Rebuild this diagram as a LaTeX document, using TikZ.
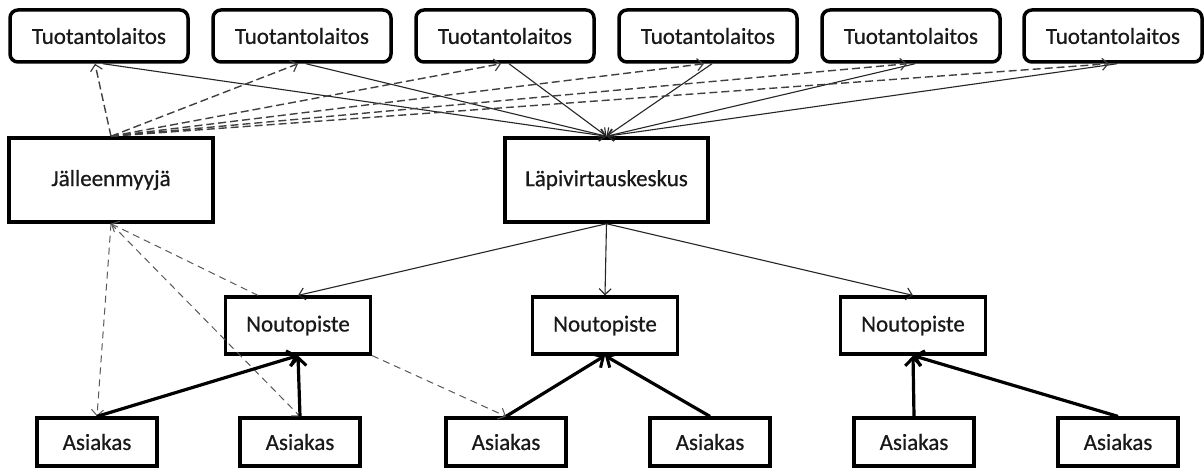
\documentclass[tikz,border=0pt]{standalone}
\usepackage{fontspec}
\setmainfont{Carlito}
\newfontfamily\lblfont{Carlito}[FakeBold=0.6]
\usetikzlibrary{arrows.meta}
\begin{document}
\begin{tikzpicture}[x=1pt,y=-1pt,
  lbl/.style={font=\lblfont\fontsize{23}{27}\selectfont, text=black!90, inner sep=0pt},
  tbox/.style={lbl, draw, line width=3.5pt, rounded corners=8pt, minimum width=178pt, minimum height=52pt},
  bigbox/.style={lbl, draw, line width=3.5pt, minimum width=203pt, minimum height=84pt},
  npbox/.style={lbl, draw, line width=3.2pt, minimum width=145pt, minimum height=57pt},
  abox/.style={lbl, draw, line width=3.2pt, minimum width=120pt, minimum height=48pt},
  thin/.style={line width=1.1pt, black!85, -{Straight Barb[length=6pt,width=12pt,line width=1.1pt]}},
  dtop/.style={line width=1.4pt, black!75, dash pattern=on 8pt off 4pt, -{Straight Barb[length=6pt,width=12pt,line width=1.2pt]}},
  dlow/.style={line width=1pt, black!65, dash pattern=on 7pt off 5pt, -{Straight Barb[length=6pt,width=12pt,line width=1pt]}},
  thick/.style={line width=3.2pt, black, -{Straight Barb[length=8pt,width=16pt,line width=3pt]}}
]
\useasboundingbox[fill=white] (0,0) rectangle (1204,468);
% top row
\foreach \i/\x in {1/99,2/302,3/505,4/708,5/911,6/1113}
  \node[tbox] (T\i) at (\x,36) {Tuotantolaitos};
\node[bigbox, minimum width=204pt] (J) at (111,180) {Jälleenmyyjä};
\node[bigbox] (L) at (606.5,180) {Läpivirtauskeskus};
\node[npbox] (N1) at (298,325.5) {Noutopiste};
\node[npbox] (N2) at (605,325.5) {Noutopiste};
\node[npbox] (N3) at (913,325.5) {Noutopiste};
\foreach \i/\x in {1/97,2/300,3/506,4/710,5/914,6/1118}
  \node[abox] (A\i) at (\x,442) {Asiakas};
% solid: producers to flow-through centre
\foreach \i in {1,...,6}
  \draw[thin] ([xshift=4pt]T\i.south) -- (L.north);
% dashed: reseller to producers
\foreach \i in {1,...,6}
  \draw[dtop] (J.north) -- ([xshift=-4pt]T\i.south);
% centre to pick-up points
\foreach \i in {1,2,3}
  \draw[thin] (L.south) -- (N\i.north);
% lower dashed
\draw[dlow] ([xshift=-40pt]N1.north) -- (J.south);
\draw[dlow] (J.south) -- (A1.north);
\draw[dlow] (J.south) -- (A2.north);
\draw[dlow] (N1.south east) -- (A3.north);
% customers to pick-up points
\draw[thick] (A1.north) -- (N1.south);
\draw[thick] (A2.north) -- (N1.south);
\draw[thick] (A3.north) -- (N2.south);
\draw[thick] (A4.north) -- (N2.south);
\draw[thick] (A5.north) -- (N3.south);
\draw[thick] (A6.north) -- (N3.south);
\end{tikzpicture}
\end{document}
